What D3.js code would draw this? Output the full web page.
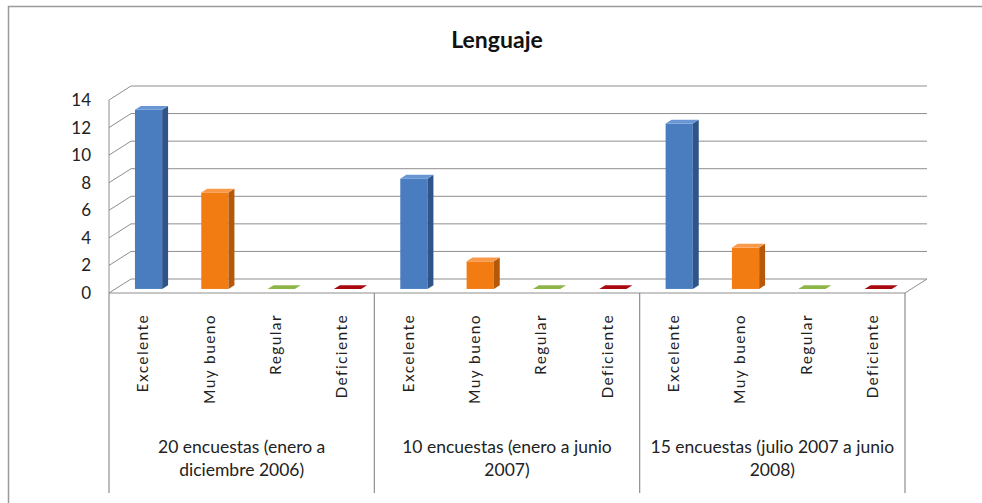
<!DOCTYPE html>
<html><head><meta charset="utf-8">
<script src="https://cdn.jsdelivr.net/npm/d3@7"></script>
<style>body{margin:0;background:#fff}svg{display:block}</style>
</head><body>
<svg id="c" width="982" height="503"></svg>
<script>
const title = "Lenguaje";
const groups = ["20 encuestas (enero a|diciembre 2006)", "10 encuestas (enero a junio|2007)", "15 encuestas (julio 2007 a junio|2008)"];
const ratings = ["Excelente", "Muy bueno", "Regular", "Deficiente"];
const values = [13, 7, 0, 0, 8, 2, 0, 0, 12, 3, 0, 0];
const yTicks = [0, 2, 4, 6, 8, 10, 12, 14];

const colors = {
  Excelente: {front: "#4a7dc0", side: "#2e5489", top: "#6a97d4"},
  "Muy bueno": {front: "#f27b12", side: "#b6580a", top: "#f99a4a"},
  Regular: {front: "#8db548", side: "#6d9232", top: "#8db548"},
  Deficiente: {front: "#a8080e", side: "#7a0509", top: "#a8080e"}
};

const svg = d3.select("#c");
const font = "Lato, 'Open Sans', sans-serif";
const X0 = 109, X1 = 905, YB = 293, YT = 100;
const DX = 22, DY = -14;
const cats = [];
groups.forEach((g, gi) => ratings.forEach(r => cats.push({g: gi, r, key: gi + "-" + r})));

const x = d3.scaleBand().domain(cats.map(c => c.key)).range([X0, X1]).paddingInner(0).paddingOuter(0);
const xg = d3.scaleBand().domain(groups.map((g, i) => i)).range([X0, X1]);
const y = d3.scaleLinear().domain([0, 14]).range([YB, YT]);

// outer border
svg.append("rect").attr("x", 8.5).attr("y", 6.5).attr("width", 990).attr("height", 500)
  .attr("fill", "none").attr("stroke", "#9a9a9a").attr("stroke-width", 1.5);

// title
svg.append("text").attr("x", 497).attr("y", 48).attr("text-anchor", "middle")
  .attr("font-family", font).attr("font-weight", "bold").attr("font-size", 23).attr("fill", "#111").text(title);

const grid = "#8e8e8e";
yTicks.forEach(t => {
  const yy = y(t);
  svg.append("line").attr("x1", X0).attr("y1", yy).attr("x2", X0 + DX).attr("y2", yy + DY)
    .attr("stroke", grid).attr("stroke-width", 1);
  svg.append("line").attr("x1", X0 + DX).attr("y1", yy + DY).attr("x2", X1 + DX).attr("y2", yy + DY)
    .attr("stroke", grid).attr("stroke-width", 1);
  svg.append("text").attr("x", 91).attr("y", yy + 6).attr("text-anchor", "end")
    .attr("font-family", font).attr("font-size", 17).attr("fill", "#222").text(t);
});
svg.append("line").attr("x1", X0).attr("y1", YT).attr("x2", X0).attr("y2", YB).attr("stroke", grid);
svg.append("line").attr("x1", X0).attr("y1", YB).attr("x2", X1).attr("y2", YB).attr("stroke", grid);
svg.append("line").attr("x1", X1).attr("y1", YB).attr("x2", X1 + DX).attr("y2", YB + DY).attr("stroke", grid);

// bars
const f1 = 0.29, f2 = 0.56;
const bw = x.bandwidth() * 0.41;
cats.forEach((c, i) => {
  const v = values[i];
  const col = colors[c.r];
  const xl = x(c.key) + (x.bandwidth() - bw) / 2 + DX * f1;
  const ox = DX * (f2 - f1), oy = DY * (f2 - f1);
  const yb = y(0) + DY * f1, yt = y(v) + DY * f1;
  const g = svg.append("g");
  if (v > 0) {
    g.append("rect").attr("x", xl).attr("y", yt).attr("width", bw).attr("height", yb - yt).attr("fill", col.front);
    g.append("path").attr("d", `M${xl + bw},${yt}L${xl + bw + ox},${yt + oy}L${xl + bw + ox},${yb + oy}L${xl + bw},${yb}Z`).attr("fill", col.side);
  }
  g.append("path").attr("d", `M${xl},${yt}L${xl + ox},${yt + oy}L${xl + bw + ox},${yt + oy}L${xl + bw},${yt}Z`).attr("fill", col.top);
});

// category labels (rotated)
cats.forEach(c => {
  const cx = x(c.key) + x.bandwidth() / 2;
  svg.append("text").attr("transform", `translate(${cx + 6},314) rotate(-90)`)
    .attr("text-anchor", "end").attr("font-family", font).attr("font-size", 15.5)
    .attr("letter-spacing", 1.4).attr("fill", "#222").text(c.r);
});

// separators
[X0, ...groups.map((g, i) => xg(i) + xg.bandwidth())].forEach(sx => {
  svg.append("line").attr("x1", sx).attr("y1", YB).attr("x2", sx).attr("y2", 493)
    .attr("stroke", grid).attr("stroke-width", 1.2);
});

// group labels
groups.forEach((g, i) => {
  const cx = xg(i) + xg.bandwidth() / 2;
  g.split("|").forEach((line, li) => {
    svg.append("text").attr("x", cx).attr("y", 453 + li * 23).attr("text-anchor", "middle")
      .attr("font-family", font).attr("font-size", 17.5).attr("fill", "#222").text(line);
  });
});
</script>
</body></html>
